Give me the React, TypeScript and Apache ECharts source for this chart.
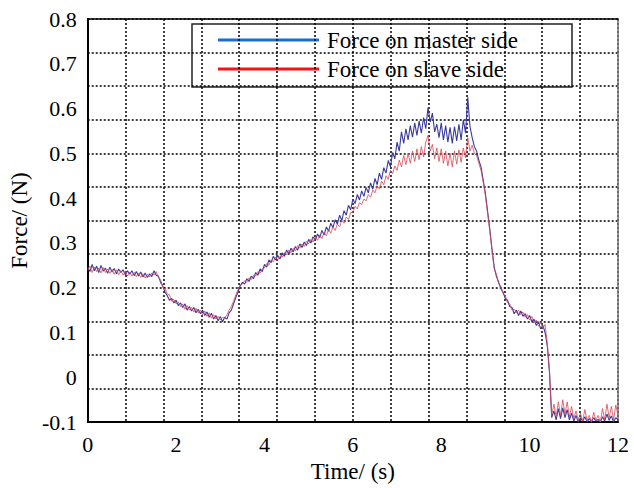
import React, { useEffect, useRef } from "react";
import * as echarts from "echarts";

const TIME = [
  0, 0.05, 0.1, 0.15, 0.2, 0.25, 0.3, 0.35, 0.4, 0.45, 0.5, 0.55, 0.6, 0.65, 0.7, 0.75, 0.8, 0.85, 0.9, 0.95,
  1, 1.05, 1.1, 1.15, 1.2, 1.25, 1.3, 1.35, 1.4, 1.45, 1.5, 1.55, 1.6, 1.65, 1.7, 1.75, 1.8, 1.85, 1.9, 1.95,
  2, 2.05, 2.1, 2.15, 2.2, 2.25, 2.3, 2.35, 2.4, 2.45, 2.5, 2.55, 2.6, 2.65, 2.7, 2.75, 2.8, 2.85, 2.9, 2.95,
  3, 3.05, 3.1, 3.15, 3.2, 3.25, 3.3, 3.35, 3.4, 3.45, 3.5, 3.55, 3.6, 3.65, 3.7, 3.75, 3.8, 3.85, 3.9, 3.95,
  4, 4.05, 4.1, 4.15, 4.2, 4.25, 4.3, 4.35, 4.4, 4.45, 4.5, 4.55, 4.6, 4.65, 4.7, 4.75, 4.8, 4.85, 4.9, 4.95,
  5, 5.05, 5.1, 5.15, 5.2, 5.25, 5.3, 5.35, 5.4, 5.45, 5.5, 5.55, 5.6, 5.65, 5.7, 5.75, 5.8, 5.85, 5.9, 5.95,
  6, 6.05, 6.1, 6.15, 6.2, 6.25, 6.3, 6.35, 6.4, 6.45, 6.5, 6.55, 6.6, 6.65, 6.7, 6.75, 6.8, 6.85, 6.9, 6.95,
  7, 7.05, 7.1, 7.15, 7.2, 7.25, 7.3, 7.35, 7.4, 7.45, 7.5, 7.55, 7.6, 7.65, 7.7, 7.75, 7.8, 7.85, 7.9, 7.95,
  8, 8.05, 8.1, 8.15, 8.2, 8.25, 8.3, 8.35, 8.4, 8.45, 8.5, 8.55, 8.6, 8.65, 8.7, 8.75, 8.8, 8.85, 8.9, 8.95,
  9, 9.05, 9.1, 9.15, 9.2, 9.25, 9.3, 9.35, 9.4, 9.45, 9.5, 9.55, 9.6, 9.65, 9.7, 9.75, 9.8, 9.85, 9.9, 9.95,
  10, 10.05, 10.1, 10.15, 10.2, 10.25, 10.3, 10.35, 10.4, 10.45, 10.5, 10.55, 10.6, 10.65, 10.7, 10.75, 10.8, 10.85, 10.9, 10.95,
  11, 11.05, 11.1, 11.15, 11.2, 11.25, 11.3, 11.35, 11.4, 11.45, 11.5, 11.55, 11.6, 11.65, 11.7, 11.75, 11.8, 11.85, 11.9, 11.95,
  12,
];

const MASTER = [
  0.245, 0.236, 0.252, 0.238, 0.248, 0.234, 0.250, 0.237, 0.244, 0.232, 0.246, 0.235, 0.243, 0.231, 0.242, 0.234, 0.240, 0.229, 0.238, 0.230,
  0.238, 0.227, 0.236, 0.226, 0.235, 0.224, 0.233, 0.223, 0.231, 0.225, 0.238, 0.228, 0.226, 0.212, 0.204, 0.190, 0.182, 0.172, 0.176, 0.166,
  0.172, 0.160, 0.166, 0.156, 0.164, 0.150, 0.158, 0.148, 0.156, 0.144, 0.152, 0.142, 0.150, 0.138, 0.146, 0.134, 0.143, 0.130, 0.138, 0.126,
  0.136, 0.124, 0.134, 0.130, 0.144, 0.150, 0.164, 0.178, 0.190, 0.204, 0.212, 0.208, 0.220, 0.214, 0.226, 0.220, 0.234, 0.228, 0.242, 0.236,
  0.252, 0.246, 0.262, 0.256, 0.270, 0.262, 0.272, 0.264, 0.278, 0.270, 0.284, 0.276, 0.288, 0.280, 0.292, 0.284, 0.298, 0.290, 0.302, 0.294,
  0.308, 0.300, 0.314, 0.306, 0.320, 0.312, 0.328, 0.318, 0.336, 0.326, 0.344, 0.334, 0.352, 0.342, 0.362, 0.350, 0.372, 0.362, 0.384, 0.374,
  0.398, 0.388, 0.408, 0.396, 0.416, 0.404, 0.424, 0.412, 0.434, 0.420, 0.444, 0.430, 0.456, 0.442, 0.468, 0.456, 0.484, 0.470, 0.502, 0.488,
  0.525, 0.505, 0.548, 0.522, 0.555, 0.530, 0.562, 0.536, 0.568, 0.540, 0.572, 0.545, 0.580, 0.555, 0.602, 0.570, 0.590, 0.548, 0.565, 0.535,
  0.568, 0.530, 0.562, 0.525, 0.558, 0.522, 0.560, 0.528, 0.565, 0.530, 0.575, 0.545, 0.625, 0.560, 0.535, 0.515, 0.505, 0.485, 0.470, 0.440,
  0.410, 0.370, 0.330, 0.285, 0.245, 0.225, 0.212, 0.198, 0.190, 0.176, 0.172, 0.158, 0.156, 0.142, 0.150, 0.138, 0.148, 0.136, 0.142, 0.130,
  0.138, 0.124, 0.130, 0.116, 0.124, 0.108, 0.116, 0.100, 0.070, 0.010, -0.090, -0.075, -0.095, -0.070, -0.092, -0.068, -0.090, -0.072, -0.095, -0.080,
  -0.098, -0.085, -0.100, -0.090, -0.098, -0.088, -0.100, -0.092, -0.100, -0.090, -0.098, -0.094, -0.100, -0.088, -0.098, -0.082, -0.096, -0.086, -0.100, -0.090,
  -0.095,
];

const SLAVE = [
  0.240, 0.248, 0.234, 0.246, 0.236, 0.244, 0.233, 0.245, 0.234, 0.242, 0.232, 0.241, 0.230, 0.240, 0.229, 0.238, 0.228, 0.236, 0.226, 0.235,
  0.226, 0.234, 0.225, 0.232, 0.223, 0.231, 0.222, 0.230, 0.224, 0.233, 0.228, 0.236, 0.222, 0.218, 0.200, 0.198, 0.186, 0.184, 0.170, 0.174,
  0.164, 0.168, 0.158, 0.164, 0.152, 0.160, 0.150, 0.156, 0.146, 0.154, 0.144, 0.150, 0.140, 0.148, 0.136, 0.144, 0.132, 0.140, 0.130, 0.136,
  0.128, 0.134, 0.132, 0.140, 0.150, 0.158, 0.170, 0.184, 0.196, 0.206, 0.208, 0.216, 0.212, 0.222, 0.218, 0.228, 0.226, 0.236, 0.232, 0.242,
  0.244, 0.254, 0.250, 0.262, 0.258, 0.268, 0.262, 0.270, 0.268, 0.278, 0.274, 0.284, 0.278, 0.288, 0.282, 0.294, 0.288, 0.298, 0.292, 0.304,
  0.298, 0.308, 0.302, 0.314, 0.306, 0.318, 0.310, 0.324, 0.316, 0.330, 0.322, 0.336, 0.328, 0.342, 0.336, 0.350, 0.344, 0.358, 0.352, 0.368,
  0.368, 0.382, 0.376, 0.390, 0.386, 0.398, 0.394, 0.408, 0.402, 0.418, 0.412, 0.428, 0.420, 0.438, 0.430, 0.450, 0.442, 0.462, 0.455, 0.472,
  0.462, 0.485, 0.470, 0.495, 0.475, 0.500, 0.478, 0.505, 0.482, 0.510, 0.486, 0.515, 0.492, 0.525, 0.540, 0.505, 0.520, 0.488, 0.512, 0.482,
  0.510, 0.478, 0.505, 0.472, 0.500, 0.470, 0.505, 0.476, 0.508, 0.480, 0.512, 0.490, 0.535, 0.505, 0.518, 0.500, 0.495, 0.478, 0.462, 0.435,
  0.405, 0.365, 0.325, 0.282, 0.242, 0.230, 0.208, 0.204, 0.186, 0.182, 0.166, 0.164, 0.150, 0.152, 0.144, 0.150, 0.140, 0.146, 0.134, 0.140,
  0.128, 0.136, 0.122, 0.128, 0.114, 0.122, 0.110, 0.118, 0.075, 0.015, -0.085, -0.060, -0.088, -0.055, -0.085, -0.050, -0.082, -0.055, -0.088, -0.065,
  -0.092, -0.075, -0.095, -0.080, -0.098, -0.072, -0.096, -0.085, -0.100, -0.078, -0.096, -0.085, -0.100, -0.070, -0.095, -0.060, -0.090, -0.065, -0.095, -0.062,
  -0.085,
];

const X_TICKS = { min: 0, max: 12, interval: 2 };
const Y_TICKS = { min: -0.1, max: 0.8, interval: 0.1 };
const LEGEND_NAMES = ["Force on master side", "Force on slave side"];
const X_NAME = "Time/ (s)";
const Y_NAME = "Force/ (N)";

const FONT = "'Liberation Serif', 'Times New Roman', serif";

export default function App() {
  const ref = useRef<HTMLDivElement>(null);

  useEffect(() => {
    if (!ref.current) return;
    const chart = echarts.init(ref.current, undefined, { renderer: "svg" });
    const master = TIME.map((t, i) => [t, MASTER[i]]);
    const slave = TIME.map((t, i) => [t, SLAVE[i]]);
    const gridLine = { show: true, lineStyle: { color: "#000", width: 1.5, type: [2, 2] as any } };

    chart.setOption({
      animation: false,
      backgroundColor: "#fff",
      grid: { left: 84, right: 16, top: 19, bottom: 60, containLabel: false },
      xAxis: [
        {
          type: "value",
          min: X_TICKS.min,
          max: X_TICKS.max,
          interval: X_TICKS.interval,
          position: "bottom",
          name: X_NAME,
          nameLocation: "middle",
          nameGap: 35,
          nameTextStyle: { fontFamily: FONT, fontSize: 23, color: "#000" },
          axisLine: { show: true, onZero: false, lineStyle: { color: "#000", width: 2 } },
          axisTick: { show: false },
          axisLabel: { fontFamily: FONT, fontSize: 22, color: "#000", margin: 11 },
          splitLine: { show: false },
        },
        {
          type: "value",
          min: 0,
          max: 14,
          interval: 1,
          position: "top",
          axisLine: { show: true, onZero: false, lineStyle: { color: "#000", width: 1.5 } },
          axisTick: { show: false },
          axisLabel: { show: false },
          splitLine: gridLine,
        },
      ],
      yAxis: [
        {
          type: "value",
          min: Y_TICKS.min,
          max: Y_TICKS.max,
          interval: Y_TICKS.interval,
          position: "left",
          name: Y_NAME,
          nameLocation: "middle",
          nameGap: 48,
          nameTextStyle: { fontFamily: FONT, fontSize: 23, color: "#000" },
          axisLine: { show: true, onZero: false, lineStyle: { color: "#000", width: 2 } },
          axisTick: { show: false },
          axisLabel: {
            fontFamily: FONT,
            fontSize: 22,
            color: "#000",
            margin: 11,
            formatter: (v: number) => String(Math.round(v * 10) / 10),
          },
          splitLine: { show: false },
        },
        {
          type: "value",
          min: 0,
          max: 12,
          interval: 1,
          position: "right",
          axisLine: { show: true, onZero: false, lineStyle: { color: "#777", width: 1.5 } },
          axisTick: { show: false },
          axisLabel: { show: false },
          splitLine: gridLine,
        },
      ],
      series: [
        {
          name: LEGEND_NAMES[0],
          type: "line",
          xAxisIndex: 0,
          yAxisIndex: 0,
          data: master,
          showSymbol: false,
          lineStyle: { color: "#3a3aa0", width: 1.1 },
          z: 3,
        },
        {
          name: LEGEND_NAMES[1],
          type: "line",
          xAxisIndex: 0,
          yAxisIndex: 0,
          data: slave,
          showSymbol: false,
          lineStyle: { color: "#d84858", width: 1, opacity: 0.8 },
          z: 4,
        },
      ],
      graphic: [
        {
          type: "group",
          z: 100,
          children: [
            {
              type: "rect",
              shape: { x: 192, y: 24, width: 380, height: 63 },
              style: { fill: "#fff", stroke: "#222", lineWidth: 1.5 },
            },
            {
              type: "line",
              shape: { x1: 218, y1: 40, x2: 319, y2: 40 },
              style: { stroke: "#1c6fc8", lineWidth: 3 },
            },
            {
              type: "line",
              shape: { x1: 218, y1: 69, x2: 319, y2: 69 },
              style: { stroke: "#ff1010", lineWidth: 3 },
            },
            {
              type: "text",
              x: 327,
              y: 40,
              style: {
                text: LEGEND_NAMES[0],
                fontFamily: FONT,
                fontSize: 23,
                fill: "#000",
                verticalAlign: "middle",
              },
            },
            {
              type: "text",
              x: 327,
              y: 69,
              style: {
                text: LEGEND_NAMES[1],
                fontFamily: FONT,
                fontSize: 23,
                fill: "#000",
                verticalAlign: "middle",
              },
            },
          ],
        },
      ],
    });
    return () => chart.dispose();
  }, []);

  return (
    <div
      ref={ref}
      style={{ position: "fixed", left: 0, top: 0, width: 634, height: 488 }}
    />
  );
}
